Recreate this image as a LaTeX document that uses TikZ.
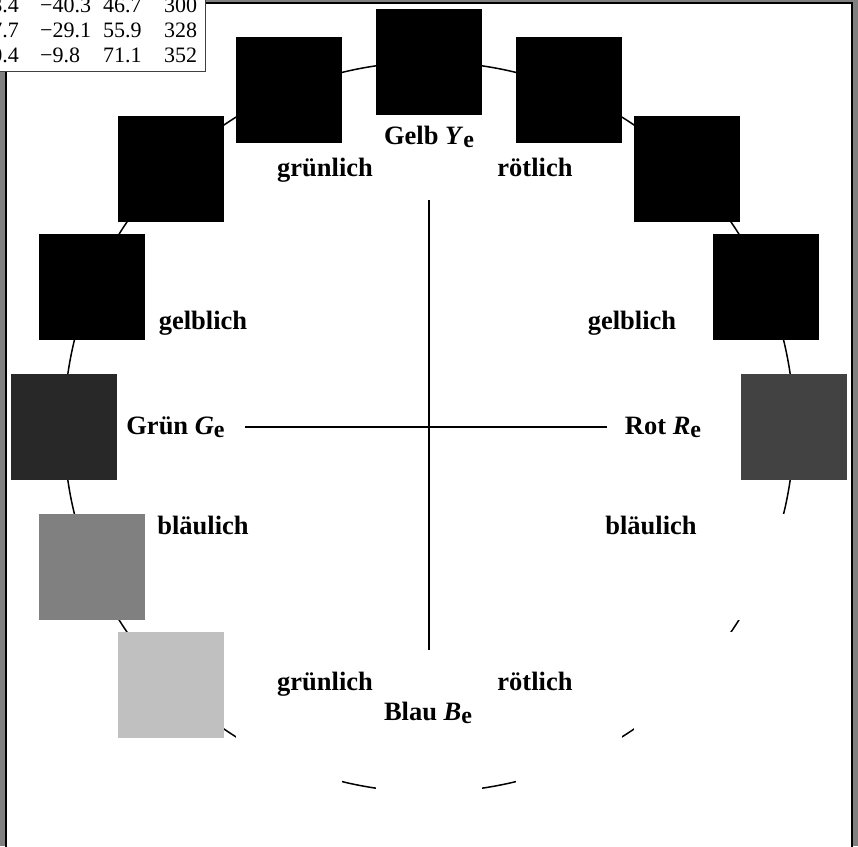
\documentclass[tikz,border=0pt]{standalone}
\usepackage{fontspec}
\setmainfont{Liberation Serif}
\definecolor{framegray}{HTML}{808080}
\definecolor{sqA}{HTML}{000000}
\definecolor{sqG}{HTML}{282828}
\definecolor{sqR}{HTML}{424242}
\definecolor{sqM}{HTML}{808080}
\definecolor{sqL}{HTML}{C0C0C0}
\newcommand{\subE}{\raisebox{-0.12em}{\fontsize{24}{24}\selectfont e}}
\begin{document}
\begin{tikzpicture}[x=1pt,y=-1pt,
  lbl/.style={font=\fontsize{26.5}{27}\selectfont\bfseries, anchor=base, inner sep=0pt},
  tab/.style={font=\fontsize{22}{22}\selectfont, anchor=base west, inner sep=0pt},
  tabe/.style={font=\fontsize{22}{22}\selectfont, anchor=base east, inner sep=0pt},
  sq/.style={rectangle, minimum width=106pt, minimum height=106pt, inner sep=0pt, draw=none},
  axis/.style={line width=1.5pt}]
\useasboundingbox (0,0) rectangle (858,846);
\clip (0,0) rectangle (858,846);
% frame
\fill[framegray] (0,0) rectangle (858,846);
\fill[white] (6,3) rectangle (852,860);
\draw[line width=2pt] (6,860) -- (6,3) -- (852,3) -- (852,860);
% circle
\coordinate (c) at (429,427);
\draw[line width=1.5pt] (c) circle[radius=365pt];
% squares
\foreach \k/\col in {0/sqR,1/sqA,2/sqA,3/sqA,4/sqA,5/sqA,6/sqA,7/sqA,8/sqG,9/sqM,10/sqL,11/white,12/white,13/white,14/white,15/white}{
  \pgfmathsetmacro{\sx}{429+365*cos(\k*22.5)}
  \pgfmathsetmacro{\sy}{427-365*sin(\k*22.5)}
  \node[sq, fill=\col] (s\k) at (\sx,\sy) {};
}
% axes
\coordinate (hl) at (245,427);
\coordinate (hr) at (607,427);
\coordinate (vt) at (429,200);
\coordinate (vb) at (429,650);
\draw[axis] (hl) -- (hr);
\draw[axis] (vt) -- (vb);
% labels
\node[lbl] (gelb) at (429,144) {Gelb \textit{Y}\subE};
\node[lbl] (gr1) at (325,176) {grünlich};
\node[lbl] (ro1) at (535,176) {rötlich};
\node[lbl] (ge1) at (203,329) {gelblich};
\node[lbl] (ge2) at (632,329) {gelblich};
\node[lbl] (gruen) at (175.5,434) {Grün \textit{G}\subE};
\node[lbl] (rot) at (663,434) {Rot \textit{R}\subE};
\node[lbl] (bl1) at (203,534) {bläulich};
\node[lbl] (bl2) at (651,534) {bläulich};
\node[lbl] (gr2) at (325,690) {grünlich};
\node[lbl] (ro2) at (535,690) {rötlich};
\node[lbl] (blau) at (428,720) {Blau \textit{B}\subE};
% table
\fill[white] (-2,-2) rectangle (205.5,71);
\draw[line width=0.8pt, black!75] (-2,-2) rectangle (205.5,71);
\node[tabe] (t11) at (19,12) {3.4};
\node[tab] (t12) at (40,12) {−40.3};
\node[tab] (t13) at (103,12) {46.7};
\node[tab] (t14) at (164,12) {300};
\node[tabe] (t21) at (19,37) {7.7};
\node[tab] (t22) at (40,37) {−29.1};
\node[tab] (t23) at (103,37) {55.9};
\node[tab] (t24) at (164,37) {328};
\node[tabe] (t31) at (19,62) {0.4};
\node[tab] (t32) at (40,62) {−9.8};
\node[tab] (t33) at (103,62) {71.1};
\node[tab] (t34) at (164,62) {352};
\end{tikzpicture}
\end{document}
